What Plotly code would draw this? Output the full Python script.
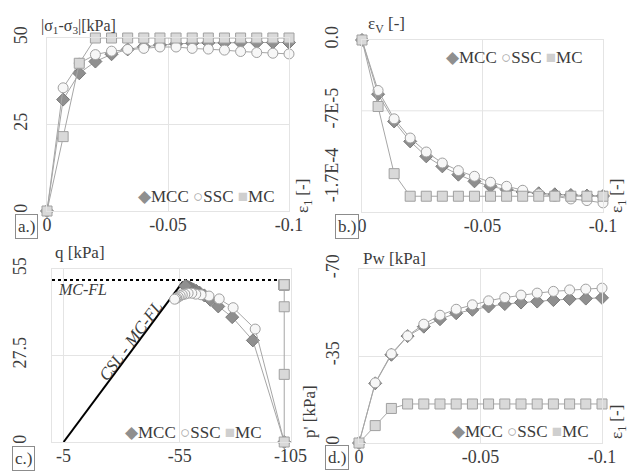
import plotly.graph_objects as go

W, H = 630, 473

# ---------------- data ----------------
eps1 = [0, -0.00667, -0.01333, -0.02, -0.02667, -0.03333, -0.04, -0.04667,
        -0.05333, -0.06, -0.06667, -0.07333, -0.08, -0.08667, -0.09333, -0.1]

# a) deviatoric stress |s1-s3| [kPa]
dev_mcc = [0, 32.2, 39.8, 43.2, 45.3, 46.7, 47.5, 48.0, 48.3, 48.5, 48.6, 48.6, 48.7, 48.7, 48.7, 48.7]
dev_ssc = [0, 35.6, 42.7, 45.2, 46.2, 46.7, 47.0, 47.4, 47.4, 47.0, 46.8, 46.5, 46.1, 45.8, 45.6, 45.4]
dev_mc = [0, 21.5, 42.7, 50, 50, 50, 50, 50, 50, 50, 50, 50, 50, 50, 50, 50]

# b) volumetric strain [-]
ev_mcc = [0, -5.36e-5, -8.05e-5, -1.002e-4, -1.15e-4, -1.249e-4, -1.331e-4, -1.397e-4,
          -1.446e-4, -1.479e-4, -1.502e-4, -1.515e-4, -1.525e-4, -1.532e-4, -1.538e-4, -1.542e-4]
ev_ssc = [0, -4.99e-5, -7.79e-5, -9.69e-5, -1.107e-4, -1.216e-4, -1.291e-4, -1.347e-4,
          -1.406e-4, -1.446e-4, -1.485e-4, -1.521e-4, -1.544e-4, -1.571e-4, -1.587e-4, -1.610e-4]
ev_mc = [0, -6.57e-5, -1.321e-4, -1.544e-4, -1.544e-4, -1.544e-4, -1.544e-4, -1.544e-4,
         -1.544e-4, -1.544e-4, -1.544e-4, -1.544e-4, -1.544e-4, -1.544e-4, -1.544e-4, -1.544e-4]

# c) stress path p' [kPa] vs q [kPa]
p_mcc = [-100, -86.5, -77.6, -71.6, -68.2, -65.6, -63.5, -62.1, -60.9, -60.0,
         -59.4, -58.9, -58.4, -58.0, -57.7, -57.4]
q_mcc = [0, 32.3, 39.7, 43.1, 45.2, 46.6, 47.5, 48.1, 48.5, 48.8, 49.0, 49.2, 49.3, 49.4, 49.5, 49.6]
p_ssc = [-100, -87.5, -78.0, -72.0, -67.6, -64.2, -61.9, -60.2, -58.6, -57.2,
         -56.1, -55.2, -54.4, -53.7, -53.3, -52.8]
q_ssc = [0, 35.9, 42.7, 45.5, 46.4, 46.8, 47.0, 47.3, 47.3, 47.0, 46.8, 46.5, 46.1, 45.8, 45.6, 45.4]
p_mc = [-100] * 16
q_mc = [0, 21.5, 43.0, 50, 50, 50, 50, 50, 50, 50, 50, 50, 50, 50, 50, 50]
csl_p = [-5, -56.4]
csl_q = [0, 51.0]
mcfl_p = [0, -101]
mcfl_q = [51.5, 51.5]

# d) pore water pressure [kPa]
pw_mcc = [0, -24.0, -35.5, -43.0, -46.8, -49.8, -52.2, -53.6, -54.9, -55.9,
          -56.5, -56.9, -57.5, -57.9, -58.1, -58.4]
pw_ssc = [0, -24.2, -35.9, -43.1, -47.8, -51.4, -53.8, -55.6, -57.2, -58.5,
          -59.5, -60.3, -61.0, -61.6, -61.9, -62.3]
pw_mc = [0, -7.0, -13.9, -15.7, -15.7, -15.7, -15.7, -15.7, -15.7, -15.7,
         -15.7, -15.7, -15.7, -15.7, -15.7, -15.7]

eps_ticks = [0, -0.05, -0.1]
eps_ticktext = ["0", "-0.05", "-0.1"]

# ---------------- style ----------------
FONT = "Liberation Serif"
TXT = "#3c3c3c"
LINE = "#a6a6a6"
GRID = "#e4e4e4"
sty = {
    "MCC": dict(symbol="diamond", size=10, color="#8f8f8f", line=dict(color="#7a7a7a", width=1)),
    "SSC": dict(symbol="circle", size=10, color="#f7f7f7", line=dict(color="#a0a0a0", width=1)),
    "MC": dict(symbol="square", size=10, color="#d9d9d9", line=dict(color="#a0a0a0", width=1)),
}


def px(x, y):
    return x / W, 1 - y / H


fig = go.Figure()


def add_series(xs, ys, name, xa, ya):
    fig.add_trace(go.Scatter(
        x=xs, y=ys, mode="lines+markers", name=name, showlegend=False,
        line=dict(color=LINE, width=1), marker=sty[name],
        xaxis=xa, yaxis=ya, cliponaxis=False))


# panel a
add_series(eps1, dev_mcc, "MCC", "x", "y")
add_series(eps1, dev_ssc, "SSC", "x", "y")
add_series(eps1, dev_mc, "MC", "x", "y")
# panel b
add_series(eps1, ev_mcc, "MCC", "x2", "y2")
add_series(eps1, ev_ssc, "SSC", "x2", "y2")
add_series(eps1, ev_mc, "MC", "x2", "y2")
# panel c
fig.add_trace(go.Scatter(x=mcfl_p, y=mcfl_q, mode="lines", showlegend=False,
                         line=dict(color="black", width=2, dash="dot"), xaxis="x3", yaxis="y3"))
fig.add_trace(go.Scatter(x=csl_p, y=csl_q, mode="lines", showlegend=False,
                         line=dict(color="black", width=2), xaxis="x3", yaxis="y3"))
add_series(p_mcc, q_mcc, "MCC", "x3", "y3")
add_series(p_ssc, q_ssc, "SSC", "x3", "y3")
add_series(p_mc, q_mc, "MC", "x3", "y3")
# panel d
add_series(eps1, pw_mcc, "MCC", "x4", "y4")
add_series(eps1, pw_ssc, "SSC", "x4", "y4")
add_series(eps1, pw_mc, "MC", "x4", "y4")


def axis(domain, rng, tickvals, ticktext, vertical=False, grid=True, anchor=None, standoff=0):
    d = dict(domain=domain, range=rng, tickvals=tickvals, ticktext=ticktext,
             showgrid=grid, gridcolor=GRID, gridwidth=1, zeroline=False,
             showline=True, mirror=True, linecolor=GRID, linewidth=1,
             ticks="", tickfont=dict(family=FONT, size=18, color=TXT),
             anchor=anchor, automargin=False, ticklabelstandoff=standoff)
    if vertical:
        d["tickangle"] = -90
    return d


xa = [px(47, 0)[0], px(289, 0)[0]]
xb = [px(362, 0)[0], px(603, 0)[0]]
xc = [px(52, 0)[0], px(290.5, 0)[0]]
xd = [px(359, 0)[0], px(602, 0)[0]]
ya = [px(0, 211)[1], px(0, 38)[1]]
yb = [px(0, 212)[1], px(0, 40)[1]]
yc = [px(0, 442)[1], px(0, 269)[1]]
yd = [px(0, 443)[1], px(0, 269)[1]]

fig.update_layout(
    template="none",
    width=W, height=H, margin=dict(l=0, r=0, t=0, b=0, autoexpand=False),
    paper_bgcolor="white", plot_bgcolor="white",
    font=dict(family=FONT, color=TXT),
    xaxis=axis(xa, [0, -0.1], eps_ticks, eps_ticktext, anchor="y", standoff=-3),
    yaxis=axis(ya, [0, 50], [0, 25, 50], ["0", "25", "50"], vertical=True, anchor="x", standoff=12),
    xaxis2=axis(xb, [0, -0.1], eps_ticks, eps_ticktext, anchor="y2", standoff=-3),
    yaxis2=axis(yb, [-1.7e-4, 0], [0, -7e-5, -1.36e-4], ["0.0", "-7E-5", "-1.7E-4"],
                vertical=True, grid=False, anchor="x2", standoff=16),
    xaxis3=axis(xc, [0, -102.7], [-5, -55, -102.7], ["-5", "-55", "-105"], anchor="y3", standoff=-3),
    yaxis3=axis(yc, [0, 55], [0, 27.5, 55], ["0", "27.5", "55"], vertical=True, anchor="x3", standoff=18),
    xaxis4=axis(xd, [0, -0.1], eps_ticks, eps_ticktext, anchor="y4", standoff=-3),
    yaxis4=axis(yd, [0, -70], [0, -35, -70], ["0", "-35", "-70"], vertical=True, anchor="x4", standoff=12),
)

# gridline at -7E-5 for panel b
fig.add_shape(type="line", xref="x2", yref="y2", x0=0, x1=-0.1, y0=-7e-5, y1=-7e-5,
              line=dict(color=GRID, width=1), layer="below")

ann = []


def text(x, y, s, size=17, angle=0, xanchor="center", italic=False, box=False):
    X, Y = px(x, y)
    a = dict(x=X, y=Y, xref="paper", yref="paper", text=s, showarrow=False,
             xanchor=xanchor, yanchor="middle", textangle=angle,
             font=dict(family=FONT, size=size, color=TXT,
                       style="italic" if italic else "normal"))
    if box:
        a.update(bordercolor="#8c8c8c", borderwidth=1, borderpad=2, bgcolor="white")
    ann.append(a)


legend_txt = ('<span style="color:#8f8f8f">◆</span>MCC '
              '<span style="color:#a8a8a8">○</span>SSC '
              '<span style="color:#cfcfcf">■</span>MC')
text(206, 196, legend_txt)
text(514, 57, legend_txt)
text(193, 432, legend_txt)
text(520, 431, legend_txt)

text(39, 27, "|σ<sub>1</sub>-σ<sub>3</sub>|[kPa]", size=16, xanchor="left")
text(366, 25, "ε<sub>V</sub> [-]", size=17, xanchor="left")
text(53, 252, "q [kPa]", size=17, xanchor="left")
text(361, 258, "Pw [kPa]", size=17, xanchor="left")

text(304, 196, "ε<sub>1</sub> [-]", size=17, angle=-90)
text(618, 196, "ε<sub>1</sub> [-]", size=17, angle=-90)
text(309, 412, "p' [kPa]", size=17, angle=-90)
text(618, 422, "ε<sub>1</sub> [-]", size=17, angle=-90)

text(26.5, 226, "a.)", box=True)
text(347, 226, "b.)", box=True)
text(23, 458, "c.)", box=True)
text(337, 457, "d.)", box=True)

text(82, 289, "MC-FL", size=16, italic=True)
text(130.5, 341.5, "CSL - MC-FL", size=17, angle=-53.4, italic=True)

fig.update_layout(annotations=ann)
fig.write_html("out.html", config={"displayModeBar": False},
               post_script="document.body.style.margin='0';"
                           "document.body.style.overflow='hidden';")
